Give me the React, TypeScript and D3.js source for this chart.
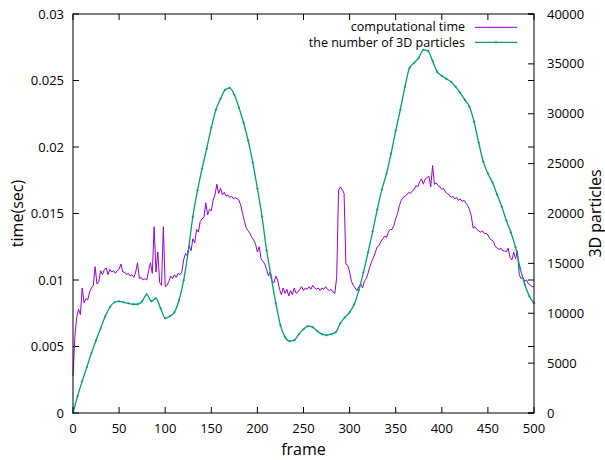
import React from 'react';
import * as d3 from 'd3';

const W = 605;
const H = 460;
const margin = { top: 14, right: 71, bottom: 47, left: 73 };

const frameTicks = [0, 50, 100, 150, 200, 250, 300, 350, 400, 450, 500];
const timeTicks = [0, 0.005, 0.01, 0.015, 0.02, 0.025, 0.03];
const timeTickLabels = ['0', '0.005', '0.01', '0.015', '0.02', '0.025', '0.03'];
const particleTicks = [0, 5000, 10000, 15000, 20000, 25000, 30000, 35000, 40000];

const seriesNames = ['computational time', 'the number of 3D particles'];
const seriesColors = ['#9400d3', '#009e73'];

// computational time, one value every 2 frames (0..500)
const timeStep = 2;
const computationalTime = [
  0.0028, 0.0057, 0.0072, 0.0078, 0.0074, 0.0094, 0.0083, 0.0086, 0.0085, 0.0091,
  0.0094, 0.0096, 0.0110, 0.0097, 0.0099, 0.0107, 0.0104, 0.0108, 0.0109, 0.0104,
  0.0108, 0.0106, 0.0107, 0.0105, 0.0107, 0.0108, 0.0112, 0.0106, 0.0106, 0.0104,
  0.0105, 0.0103, 0.0104, 0.0102, 0.0106, 0.0113, 0.0101, 0.0102, 0.0100, 0.0101,
  0.0100, 0.0107, 0.0113, 0.0105, 0.0140, 0.0106, 0.0121, 0.0098, 0.0096, 0.0140,
  0.0095, 0.0096, 0.0099, 0.0103, 0.0101, 0.0104, 0.0102, 0.0105, 0.0104, 0.0106,
  0.0115, 0.0120, 0.0118, 0.0126, 0.0122, 0.0131, 0.0128, 0.0138, 0.0136, 0.0144,
  0.0146, 0.0147, 0.0158, 0.0149, 0.0153, 0.0152, 0.0160, 0.0164, 0.0172, 0.0165,
  0.0169, 0.0164, 0.0166, 0.0163, 0.0164, 0.0162, 0.0163, 0.0161, 0.0162, 0.0161,
  0.0160, 0.0156, 0.0150, 0.0144, 0.0139, 0.0137, 0.0135, 0.0132, 0.0130, 0.0127,
  0.0121, 0.0125, 0.0116, 0.0114, 0.0112, 0.0108, 0.0103, 0.0106, 0.0099, 0.0098,
  0.0103, 0.0100, 0.0093, 0.0089, 0.0094, 0.0090, 0.0093, 0.0088, 0.0092, 0.0089,
  0.0094, 0.0090, 0.0091, 0.0093, 0.0095, 0.0092, 0.0094, 0.0093, 0.0095, 0.0093,
  0.0096, 0.0094, 0.0093, 0.0094, 0.0092, 0.0094, 0.0093, 0.0095, 0.0093, 0.0092,
  0.0093, 0.0091, 0.0090, 0.0102, 0.0167, 0.0170, 0.0168, 0.0165, 0.0112, 0.0111,
  0.0106, 0.0099, 0.0096, 0.0094, 0.0092, 0.0095, 0.0097, 0.0094, 0.0099, 0.0101,
  0.0105, 0.0110, 0.0114, 0.0117, 0.0121, 0.0125, 0.0126, 0.0129, 0.0131, 0.0133,
  0.0132, 0.0136, 0.0138, 0.0138, 0.0141, 0.0146, 0.0150, 0.0156, 0.0160, 0.0162,
  0.0163, 0.0164, 0.0166, 0.0165, 0.0167, 0.0168, 0.0171, 0.0170, 0.0174, 0.0176,
  0.0172, 0.0176, 0.0177, 0.0178, 0.0170, 0.0186, 0.0172, 0.0173, 0.0171, 0.0170,
  0.0168, 0.0169, 0.0166, 0.0165, 0.0164, 0.0162, 0.0163, 0.0161, 0.0162, 0.0160,
  0.0161, 0.0159, 0.0160, 0.0158, 0.0156, 0.0153, 0.0148, 0.0139, 0.0140, 0.0138,
  0.0137, 0.0136, 0.0137, 0.0135, 0.0135, 0.0134, 0.0131, 0.0130, 0.0129, 0.0125,
  0.0124, 0.0123, 0.0124, 0.0122, 0.0122, 0.0121, 0.0124, 0.0117, 0.0115, 0.0121,
  0.0116, 0.0122, 0.0104, 0.0101, 0.0102, 0.0099, 0.0100, 0.0097, 0.0096, 0.0095,
  0.0095,
];

// number of 3D particles, one value every 5 frames (0..500)
const particleStep = 5;
const particleCount = [
  0, 1700, 3200, 4600, 6000, 7300, 8500, 9700, 10600, 11100,
  11200, 11100, 11000, 10900, 10900, 11200, 11900, 11200, 11500, 10500,
  9500, 9700, 10100, 11300, 13300, 16200, 19700, 22300, 24500, 26500,
  28600, 30400, 31500, 32400, 32600, 31900, 30600, 29100, 27300, 25100,
  22500, 19700, 16300, 13600, 11000, 8800, 7600, 7200, 7300, 7900,
  8400, 8700, 8600, 8200, 7900, 7800, 7900, 8100, 9000, 9600,
  10100, 10900, 12300, 14100, 16100, 18200, 20400, 22400, 24000, 26000,
  28300, 30400, 32700, 34600, 35100, 35600, 36400, 36300, 35300, 34200,
  33800, 33500, 33200, 32700, 32100, 31400, 30700, 29200, 27100, 25200,
  24000, 23100, 21900, 20700, 19300, 18100, 16600, 14500, 12900, 11700,
  11000,
];

const font = "'Open Sans', sans-serif";

export default function App() {
  const x0 = margin.left;
  const x1 = W - margin.right;
  const y0 = H - margin.bottom;
  const y1 = margin.top;

  const x = d3.scaleLinear().domain([0, 500]).range([x0, x1]);
  const y = d3.scaleLinear().domain([0, 0.03]).range([y0, y1]);
  const y2 = d3.scaleLinear().domain([0, 40000]).range([y0, y1]);

  const timeLine = d3
    .line<number>()
    .x((_, i) => x(i * timeStep))
    .y((d) => y(d));
  const particleLine = d3
    .line<number>()
    .curve(d3.curveMonotoneX)
    .x((_, i) => x(i * particleStep))
    .y((d) => y2(d));

  const tick = 6;

  return (
    <svg width={W} height={H} style={{ position: 'absolute', left: 0, top: 0 }} fontFamily={font}>
      <rect width={W} height={H} fill="#fff" />

      {/* ticks */}
      <g stroke="#000" strokeWidth={1}>
        {frameTicks.map((t) => (
          <g key={'x' + t}>
            <line x1={x(t)} x2={x(t)} y1={y0} y2={y0 - tick} />
            <line x1={x(t)} x2={x(t)} y1={y1} y2={y1 + tick} />
          </g>
        ))}
        {timeTicks.map((t) => (
          <g key={'y' + t}>
            <line x1={x0} x2={x0 + tick} y1={y(t)} y2={y(t)} />
            <line x1={x1} x2={x1 - tick} y1={y(t)} y2={y(t)} />
          </g>
        ))}
        {particleTicks.map((t) => (
          <line key={'y2' + t} x1={x1} x2={x1 - tick} y1={y2(t)} y2={y2(t)} />
        ))}
      </g>

      {/* tick labels */}
      <g fontSize={13} fill="#000">
        {frameTicks.map((t) => (
          <text key={'xl' + t} x={x(t)} y={y0 + 20} textAnchor="middle">
            {t}
          </text>
        ))}
        {timeTicks.map((t, i) => (
          <text key={'yl' + t} x={x0 - 9} y={y(t)} dy="0.35em" textAnchor="end">
            {timeTickLabels[i]}
          </text>
        ))}
        {particleTicks.map((t) => (
          <text key={'y2l' + t} x={x1 + 13} y={y2(t)} dy="0.35em" textAnchor="start">
            {t}
          </text>
        ))}
      </g>

      {/* axis labels */}
      <text x={(x0 + x1) / 2} y={455} fontSize={16} textAnchor="middle">
        frame
      </text>
      <text transform={`translate(23,${(y0 + y1) / 2}) rotate(-90)`} fontSize={16} textAnchor="middle">
        time(sec)
      </text>
      <text transform={`translate(601,${(y0 + y1) / 2}) rotate(-90)`} fontSize={16} textAnchor="middle">
        3D particles
      </text>

      {/* series */}
      <path d={timeLine(computationalTime) ?? ''} fill="none" stroke={seriesColors[0]} strokeWidth={1} />
      <path d={particleLine(particleCount) ?? ''} fill="none" stroke={seriesColors[1]} strokeWidth={1.3} />
      <g stroke={seriesColors[1]} strokeWidth={0.8}>
        {particleCount.map((d, i) => (
          <path
            key={'p' + i}
            d={`M${x(i * particleStep) - 1.2},${y2(d)}h2.4M${x(i * particleStep)},${y2(d) - 1.2}v2.4`}
          />
        ))}
      </g>

      {/* legend */}
      <g fontSize={12.5}>
        <text x={465} y={31} textAnchor="end">
          {seriesNames[0]}
        </text>
        <line x1={475} x2={517} y1={27.3} y2={27.3} stroke={seriesColors[0]} strokeWidth={1} />
        <text x={465} y={46.5} textAnchor="end">
          {seriesNames[1]}
        </text>
        <line x1={475} x2={517} y1={42.3} y2={42.3} stroke={seriesColors[1]} strokeWidth={1.3} />
        <path d="M494.8,42.3h2.4M496,41.1v2.4" stroke={seriesColors[1]} strokeWidth={0.8} />
      </g>

      {/* border */}
      <rect x={x0} y={y1} width={x1 - x0} height={y0 - y1} fill="none" stroke="#000" strokeWidth={1} />
    </svg>
  );
}
